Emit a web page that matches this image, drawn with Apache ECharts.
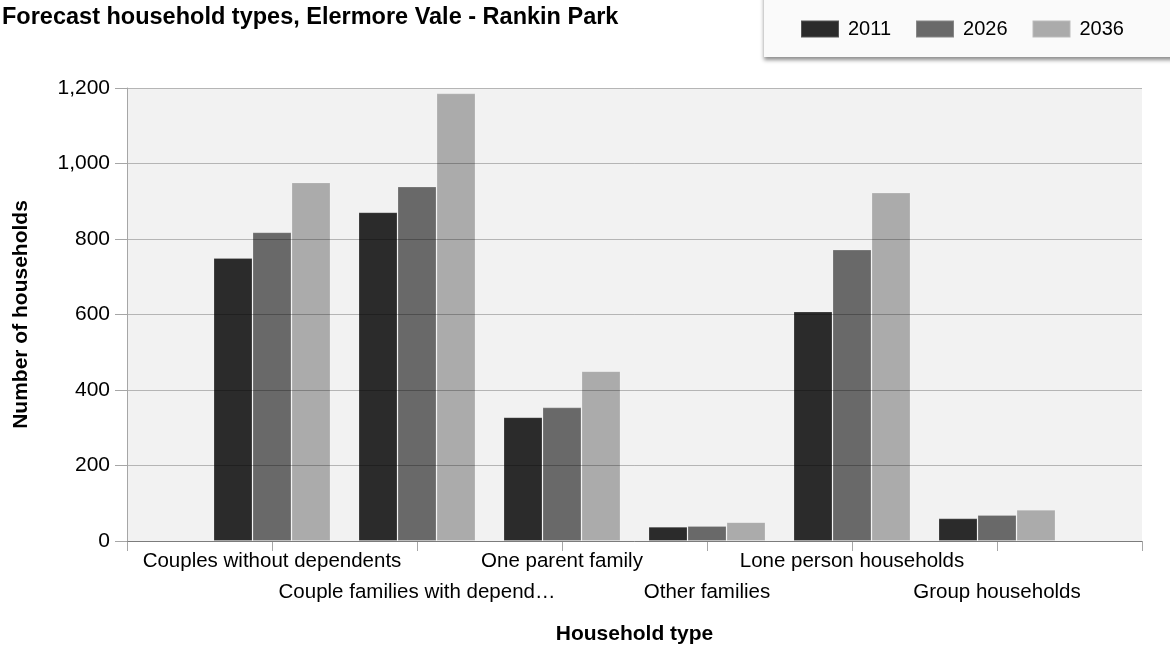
<!DOCTYPE html>
<html>
<head>
<meta charset="utf-8">
<script src="https://cdn.jsdelivr.net/npm/echarts@6/dist/echarts.min.js"></script>
<style>
html,body{margin:0;padding:0;background:#fff;}
#chart{width:1170px;height:648px;}
</style>
</head>
<body>
<div id="chart"></div>
<script>
const categories = ['', 'Couples without dependents', 'Couple families with depend\u2026', 'One parent family', 'Other families', 'Lone person households', 'Group households', ''];
const seriesNames = ['2011', '2026', '2036'];
const values2011 = [null, 750, 871, 328, 38, 608, 60, null];
const values2026 = [null, 818, 939, 354, 40, 772, 69, null];
const values2036 = [null, 950, 1186, 450, 50, 923, 83, null];
const yTicks = [0, 200, 400, 600, 800, 1000, 1200];

const colors = ['#2b2b2b', '#696969', '#ababab'];
const seriesValues = [values2011, values2026, values2036];

const chart = echarts.init(document.getElementById('chart'), null, {renderer: 'canvas'});
const font = 'Liberation Sans, Arial, sans-serif';

chart.setOption({
  animation: false,
  textStyle: {fontFamily: font},
  title: {
    text: 'Forecast household types, Elermore Vale - Rankin Park',
    left: -3, top: 1,
    textStyle: {fontSize: 23.5, fontWeight: 'bold', color: '#000', fontFamily: font}
  },
  graphic: [{
    type: 'rect',
    shape: {x: 764, y: -10, width: 420, height: 67},
    style: {fill: '#fafafa', shadowBlur: 4, shadowOffsetY: 3, shadowColor: 'rgba(0,0,0,0.45)'},
    z: 1
  }],
  legend: {
    data: seriesNames,
    left: 795, top: 14,
    itemWidth: 38, itemHeight: 17, itemGap: 24,
    icon: 'rect',
    z: 5,
    textStyle: {fontSize: 20, color: '#000', fontFamily: font, padding: [0, 0, 0, 4]}
  },
  grid: {
    left: 127, right: 28, top: 88, bottom: 107,
    outerBoundsMode: 'none',
    containLabel: false,
    show: true, backgroundColor: '#f2f2f2', borderWidth: 0
  },
  xAxis: {
    type: 'category',
    data: categories,
    boundaryGap: false,
    name: 'Household type',
    nameLocation: 'middle',
    nameGap: 83,
    nameTextStyle: {fontSize: 21, fontWeight: 'bold', color: '#000', fontFamily: font},
    axisLine: {lineStyle: {color: '#a6a6a6', width: 1}},
    axisTick: {show: true, interval: 0, length: 10, lineStyle: {color: '#a6a6a6'}},
    axisLabel: {
      interval: 0,
      hideOverlap: false,
      margin: 4.5,
      fontSize: 20.5,
      lineHeight: 31,
      color: '#000',
      fontFamily: font,
      formatter: function (v, i) { return (i % 2 === 0 && v) ? '\n' + v : v; }
    },
    splitLine: {show: false}
  },
  yAxis: {
    type: 'value',
    min: 0, max: 1200, interval: 200,
    z: 3,
    name: 'Number of households',
    nameLocation: 'middle',
    nameGap: 95,
    nameRotate: 90,
    nameTextStyle: {fontSize: 21, fontWeight: 'bold', color: '#000', fontFamily: font},
    axisLine: {show: true, lineStyle: {color: '#a6a6a6'}},
    axisTick: {show: true, length: 12, lineStyle: {color: '#a6a6a6'}},
    axisLabel: {
      margin: 17, fontSize: 21, color: '#000', fontFamily: font,
      formatter: function (v) { return yTicks.indexOf(v) >= 0 ? v.toLocaleString('en-US') : ''; }
    },
    splitLine: {show: true, lineStyle: {color: 'rgba(0,0,0,0.25)', width: 1}}
  },
  series: seriesNames.map(function (name, k) {
    return {
      name: name,
      type: 'bar',
      data: seriesValues[k],
      barWidth: 39,
      barGap: '0%',
      itemStyle: {color: colors[k], borderColor: 'rgba(255,255,255,0.2)', borderWidth: 1}
    };
  })
});
</script>
</body>
</html>
